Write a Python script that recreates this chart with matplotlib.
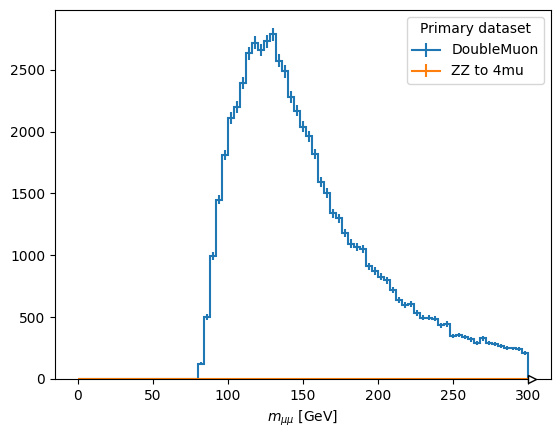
import numpy as np
import matplotlib
matplotlib.use("Agg")
import matplotlib.pyplot as plt

# Histogram: 75 bins of 4 GeV from 0 to 300
bin_edges = np.linspace(0, 300, 76)

double_muon = [
    0, 0, 0, 0, 0, 0, 0, 0, 0, 0,
    0, 0, 0, 0, 0, 0, 0, 0, 0, 0,
    125, 502, 997, 1449, 1810, 2110, 2200, 2390, 2632, 2720,
    2659, 2729, 2788, 2573, 2487, 2277, 2169, 2040, 1961, 1817,
    1590, 1503, 1338, 1300, 1182, 1095, 1068, 1054, 911, 874,
    825, 798, 718, 637, 597, 605, 535, 497, 497, 489,
    435, 444, 349, 355, 341, 320, 293, 328, 293, 282,
    266, 253, 247, 240, 212,
]
zz_to_4mu = [0.0] * 75

labels = ["DoubleMuon", "ZZ to 4mu"]
colors = ["#1f77b4", "#ff7f0e"]

fig = plt.figure(figsize=(5.6, 4.38), dpi=100)
ax = fig.add_axes([55 / 560, (438 - 379) / 438, 496 / 560, 369 / 438])

centers = 0.5 * (bin_edges[1:] + bin_edges[:-1])
handles = []
for vals, lab, col in zip([double_muon, zz_to_4mu], labels, colors):
    v = np.asarray(vals, dtype=float)
    ax.stairs(v, bin_edges, color=col, linewidth=1.5)
    ax.errorbar(centers, v, yerr=np.sqrt(v), fmt="none", ecolor=col, elinewidth=1.5)
    h = ax.errorbar([np.nan], [np.nan], yerr=[1.0], color=col, label=lab)
    handles.append(h)

ax.set_xlim(-15, 315)
ax.set_ylim(bottom=0)

# overflow hint marker
ax.plot([302.6], [0], marker=">", markersize=6, markerfacecolor="white",
        markeredgecolor="black", markeredgewidth=1.0, clip_on=False, zorder=5,
        linestyle="none")

ax.set_xlabel(r"$m_{\mu\mu}$ [GeV]")
ax.legend(handles=handles, labels=labels, title="Primary dataset", loc="upper right")

fig.savefig("out.png", dpi=100)
